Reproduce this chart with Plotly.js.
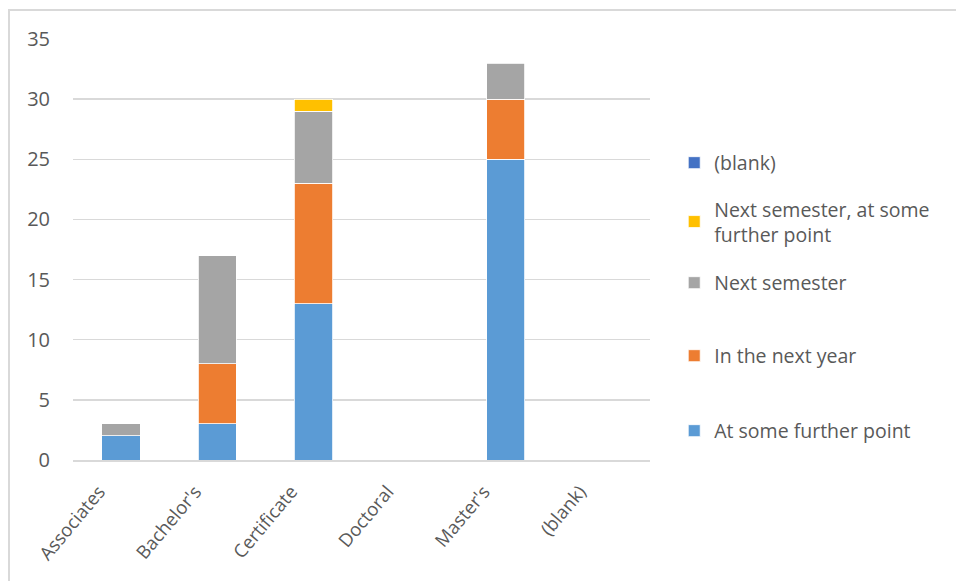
<!DOCTYPE html>
<html>
<head>
<meta charset="utf-8">
<script src="https://cdn.plot.ly/plotly-3.0.1.min.js"></script>
<style>
html,body{margin:0;padding:0;background:#fff;}
#frame{position:absolute;left:8px;top:9px;width:960px;height:600px;border-top:2px solid #d9d9d9;border-left:2px solid #d9d9d9;}
#chart{position:absolute;left:0;top:0;width:956px;height:581px;}
</style>
</head>
<body>
<div id="frame"></div>
<div id="chart"></div>
<script>
const categories = ["Associates", "Bachelor's", "Certificate", "Doctoral", "Master's", "(blank)"];
const atSomeFurtherPoint = [2, 3, 13, null, 25, null];
const inTheNextYear = [null, 5, 10, null, 5, null];
const nextSemester = [1, 9, 6, null, 3, null];
const nextSemesterFurther = [null, null, 1, null, null, null];
const blankSeries = [null, null, null, null, null, null];
const yTicks = [0, 5, 10, 15, 20, 25, 30, 35];

const FONT = "Open Sans, sans-serif";
const TXT = "#595959";

function tr(name, y, color, leg) {
  return {type: "bar", x: categories, y: y, name: name, legend: leg,
    marker: {color: color, line: {color: "#ffffff", width: 0.8}},
    hoverinfo: "skip"};
}

const data = [
  tr("At some further point", atSomeFurtherPoint, "#5b9bd5", "legend5"),
  tr("In the next year", inTheNextYear, "#ed7d31", "legend4"),
  tr("Next semester", nextSemester, "#a5a5a5", "legend3"),
  tr("Next semester, at some<br>further point", nextSemesterFurther, "#ffc000", "legend2"),
  tr("(blank)", blankSeries, "#4472c4", "legend")
];

function leg(y) {
  return {x: 1.042, y: y, xanchor: "left", yanchor: "middle",
    font: {size: 19.5, color: TXT}, itemwidth: 30, bgcolor: "rgba(0,0,0,0)"};
}

const layout = {
  width: 956, height: 581,
  paper_bgcolor: "rgba(0,0,0,0)", plot_bgcolor: "rgba(0,0,0,0)",
  margin: {l: 73, r: 306, t: 39, b: 121},
  barmode: "stack", bargap: 0.6,
  font: {family: FONT, size: 19, color: TXT},
  xaxis: {type: "category", tickangle: -50, showgrid: false, ticks: "", showline: true,
    linecolor: "#d9d9d9", linewidth: 1.5, tickfont: {size: 18.5, color: TXT},
    ticklabelshift: -22, ticklabelstandoff: 12},
  yaxis: {range: [0, 35], tickvals: yTicks, showgrid: true, gridcolor: "#d9d9d9", gridwidth: 1.5,
    zeroline: false, showline: false, ticks: "", ticklabelstandoff: 22, tickfont: {size: 20, color: TXT}},
  showlegend: true,
  legend: leg(0.7055),
  legend2: leg(0.566),
  legend3: leg(0.4204),
  legend4: leg(0.2470),
  legend5: leg(0.0689)
};

Plotly.newPlot("chart", data, layout, {displayModeBar: false, staticPlot: true});
</script>
</body>
</html>
